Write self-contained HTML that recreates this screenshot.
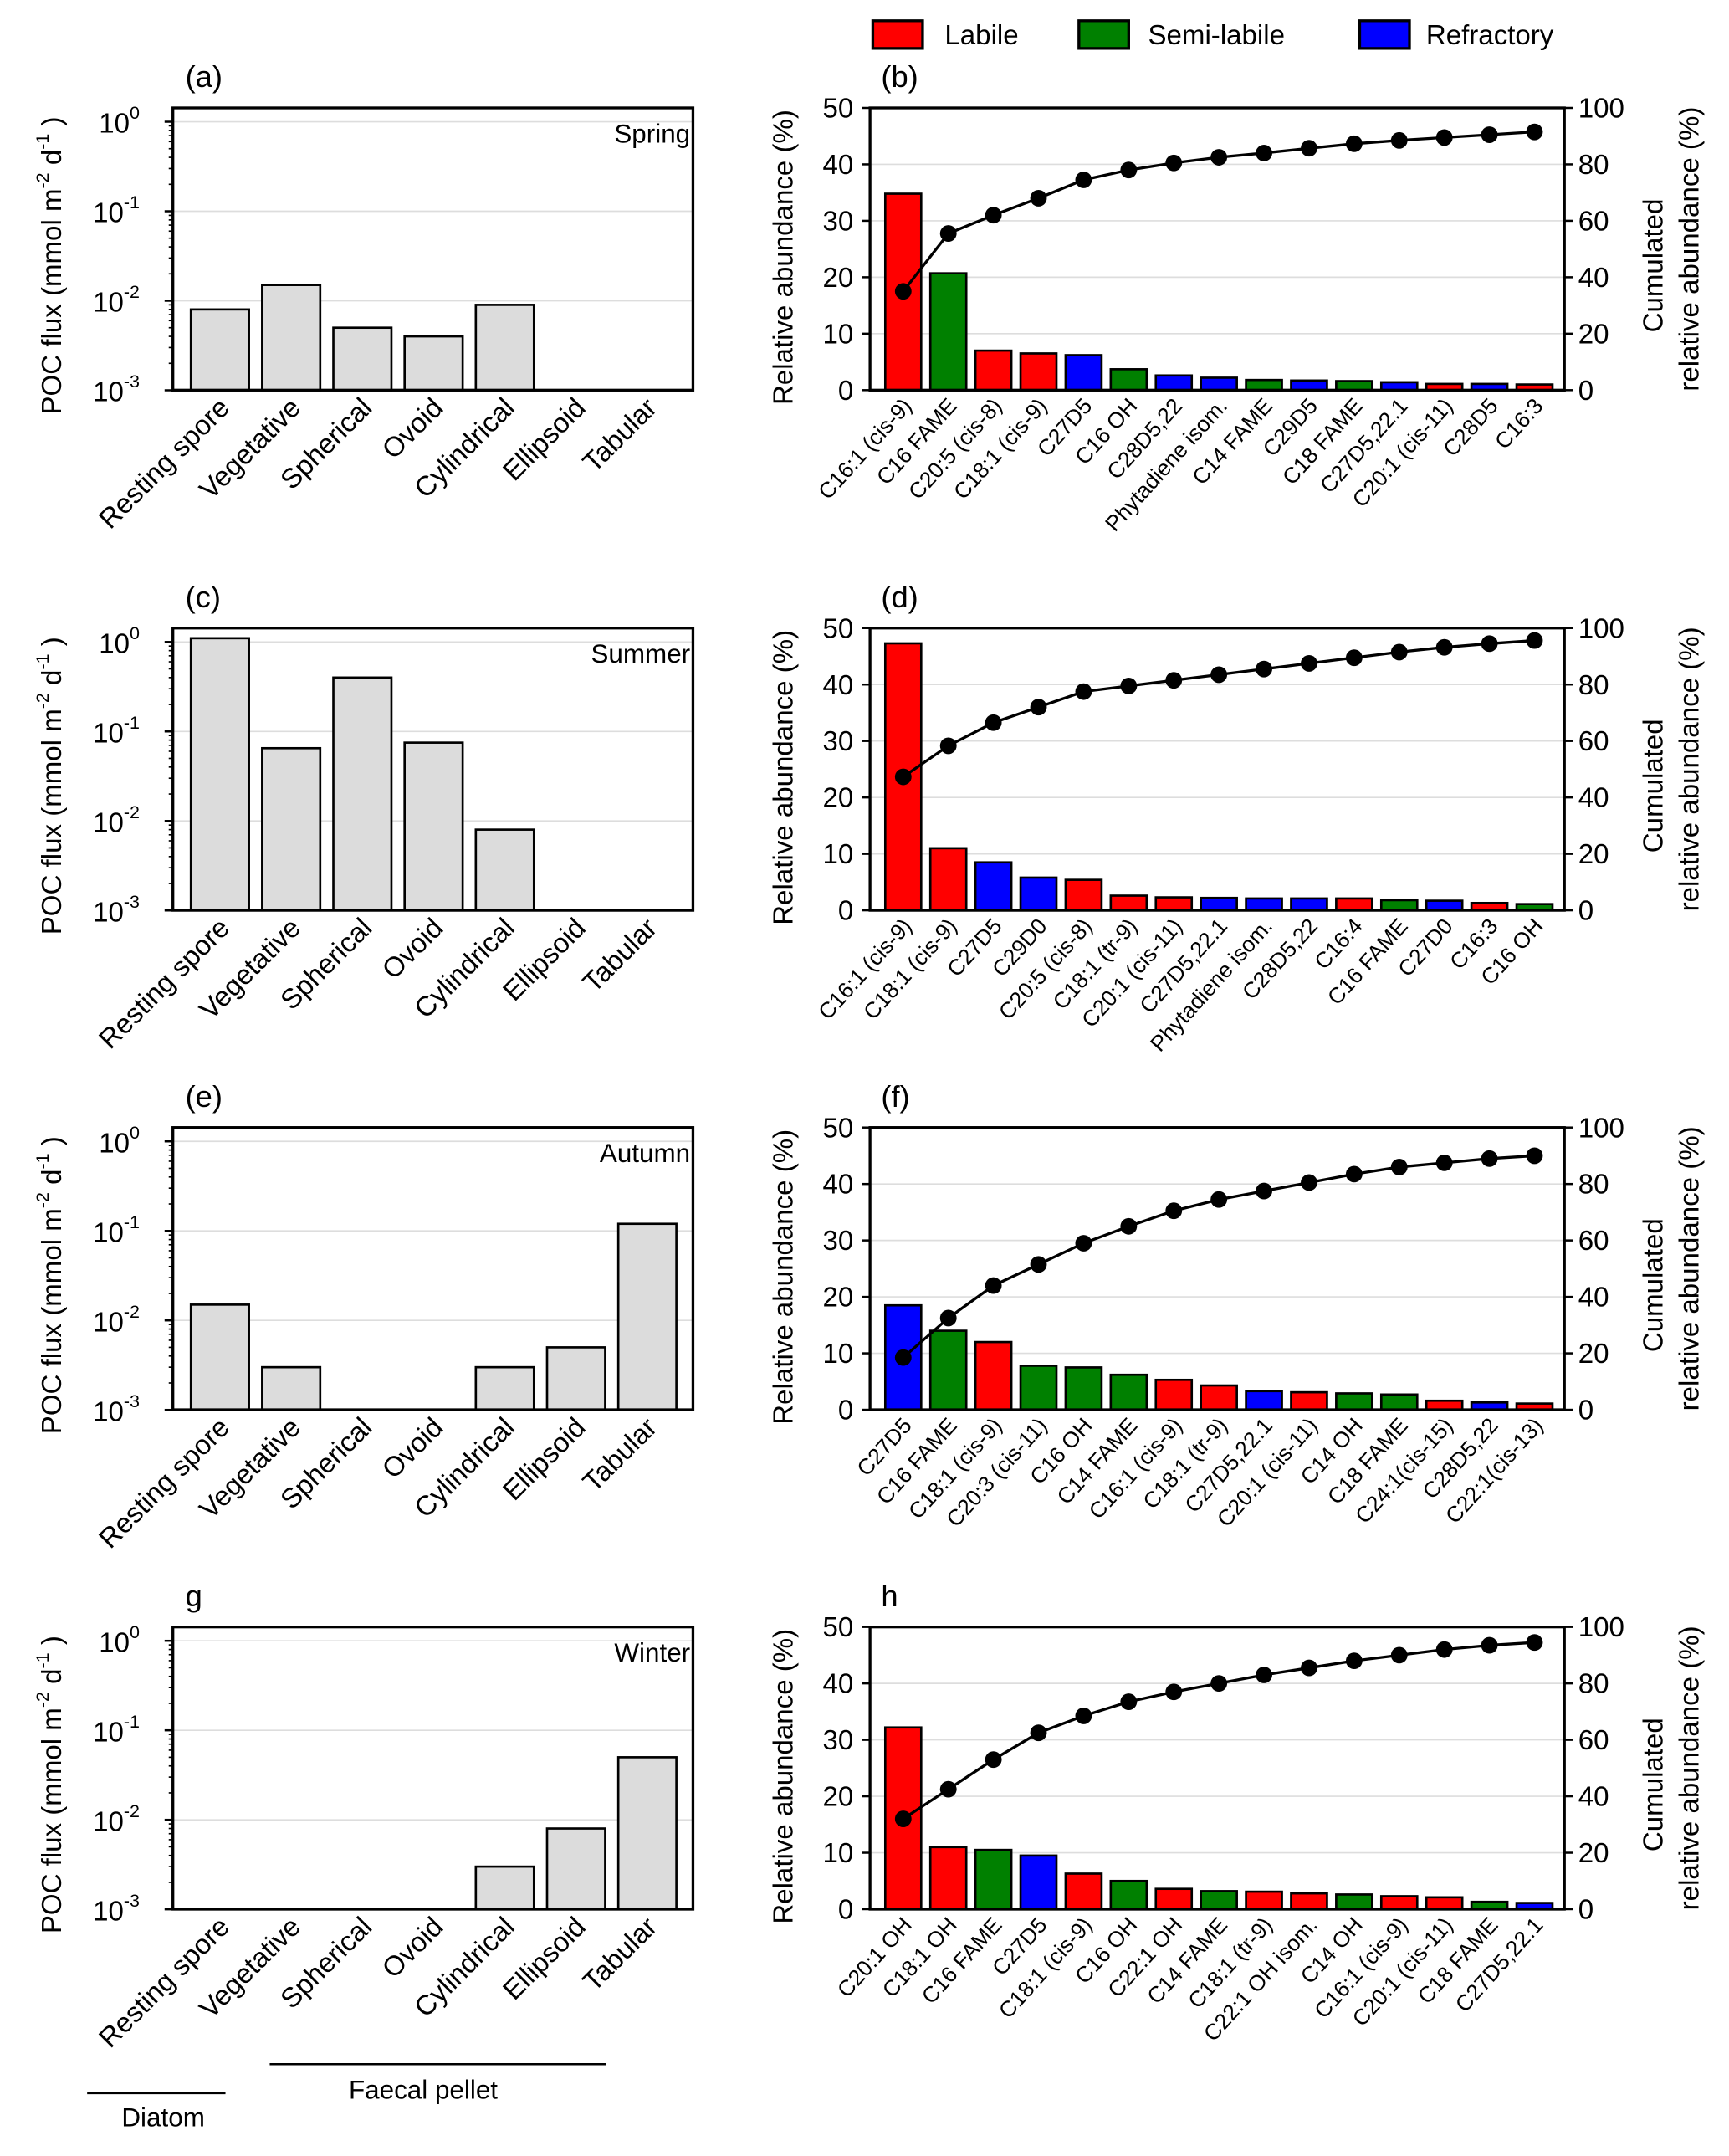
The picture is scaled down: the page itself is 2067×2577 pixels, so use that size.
<!DOCTYPE html>
<html><head><meta charset="utf-8"><style>
html,body{margin:0;padding:0;background:#fff}
svg{display:block}
text{font-family:"Liberation Sans",Arial,sans-serif;fill:#000}
</style></head><body>
<svg id="fig" xmlns="http://www.w3.org/2000/svg" width="2067" height="2577" viewBox="0 0 1250 1558.4" preserveAspectRatio="none">
<g>
<rect x="631" y="15" width="36" height="20" fill="#ff0000" stroke="#000" stroke-width="2"/>
<text x="683" y="32" font-size="20">Labile</text>
<rect x="780" y="15" width="36" height="20" fill="#008000" stroke="#000" stroke-width="2"/>
<text x="830" y="32" font-size="20">Semi-labile</text>
<rect x="983" y="15" width="36" height="20" fill="#0000ff" stroke="#000" stroke-width="2"/>
<text x="1031" y="32" font-size="20">Refractory</text>
</g>
<g>
<line x1="63" y1="1513" x2="163" y2="1513" stroke="#000" stroke-width="1.5"/>
<text x="118" y="1537" font-size="19" text-anchor="middle">Diatom</text>
<line x1="195" y1="1492" x2="438" y2="1492" stroke="#000" stroke-width="1.5"/>
<text x="306" y="1517" font-size="19" text-anchor="middle">Faecal pellet</text>
</g>
</svg>
<script>
const NS="http://www.w3.org/2000/svg";
const svg=document.getElementById('fig');
const cats=["Resting spore","Vegetative","Spherical","Ovoid","Cylindrical","Ellipsoid","Tabular"];
const fluxSpring=[0.008,0.015,0.005,0.004,0.009,null,null];
const fluxSummer=[1.1,0.065,0.4,0.075,0.008,null,null];
const fluxAutumn=[0.015,0.003,null,null,0.003,0.005,0.12];
const fluxWinter=[null,null,null,null,0.003,0.008,0.05];
const labelsB=["C16:1 (cis-9)","C16 FAME","C20:5 (cis-8)","C18:1 (cis-9)","C27D5","C16 OH","C28D5,22","Phytadiene isom.","C14 FAME","C29D5","C18 FAME","C27D5,22.1","C20:1 (cis-11)","C28D5","C16:3"];
const valsB=[34.8,20.7,7,6.5,6.2,3.7,2.6,2.2,1.8,1.7,1.6,1.4,1.1,1.1,1.0];
const classB=["L","S","L","L","R","S","R","R","S","R","S","R","L","R","L"];
const cumB=[35,55.5,62,68,74.5,78,80.5,82.5,84,85.7,87.3,88.5,89.5,90.5,91.5];
const labelsD=["C16:1 (cis-9)","C18:1 (cis-9)","C27D5","C29D0","C20:5 (cis-8)","C18:1 (tr-9)","C20:1 (cis-11)","C27D5,22.1","Phytadiene isom.","C28D5,22","C16:4","C16 FAME","C27D0","C16:3","C16 OH"];
const valsD=[47.3,11,8.5,5.8,5.4,2.6,2.3,2.2,2.1,2.1,2.1,1.8,1.7,1.3,1.1];
const classD=["L","L","R","R","L","L","L","R","R","R","L","S","R","L","S"];
const cumD=[47.3,58.3,66.5,72,77.5,79.5,81.5,83.5,85.5,87.5,89.5,91.5,93.2,94.5,95.6];
const labelsF=["C27D5","C16 FAME","C18:1 (cis-9)","C20:3 (cis-11)","C16 OH","C14 FAME","C16:1 (cis-9)","C18:1 (tr-9)","C27D5,22.1","C20:1 (cis-11)","C14 OH","C18 FAME","C24:1(cis-15)","C28D5,22","C22:1(cis-13)"];
const valsF=[18.5,14,12,7.8,7.5,6.2,5.3,4.3,3.3,3.1,2.9,2.7,1.6,1.3,1.1];
const classF=["R","S","L","S","S","S","L","L","R","L","S","S","L","R","L"];
const cumF=[18.5,32.5,44,51.5,59,65,70.5,74.5,77.5,80.5,83.5,86,87.5,89,90];
const labelsH=["C20:1 OH","C18:1 OH","C16 FAME","C27D5","C18:1 (cis-9)","C16 OH","C22:1 OH","C14 FAME","C18:1 (tr-9)","C22:1 OH isom.","C14 OH","C16:1 (cis-9)","C20:1 (cis-11)","C18 FAME","C27D5,22.1"];
const valsH=[32.2,11,10.5,9.5,6.3,5,3.6,3.2,3.1,2.8,2.6,2.3,2.1,1.3,1.1];
const classH=["L","L","S","R","L","S","L","S","L","L","S","L","L","S","R"];
const cumH=[32,42.5,53,62.5,68.5,73.5,77,80,83,85.5,88,90,92,93.5,94.5];
const colorMap={L:"#ff0000",S:"#008000",R:"#0000ff"};

function el(tag,attrs,parent,txt){const e=document.createElementNS(NS,tag);for(const k in attrs)e.setAttribute(k,attrs[k]);if(txt!==undefined)e.textContent=txt;(parent||svg).appendChild(e);return e;}

function logPanel(top,vals,letter,season,name){
  const L=125,R=501,B=top+204,T=top;
  const g=el('g',{});
  
  
  const y0=top+10,dec=64.7;
  const yv=v=>y0+(-Math.log10(v))*dec;
  for(let e=0;e>=-2;e--){el('line',{x1:L,x2:R,y1:yv(Math.pow(10,e)),y2:yv(Math.pow(10,e)),stroke:'#ddd','stroke-width':1},g);}
  const pitch=51.5, off=13;
  vals.forEach((v,i)=>{ if(v==null) return;
    const r=el('rect',{x:L+off+pitch*i,y:yv(v),width:42,height:B-yv(v),fill:'#dcdcdc',stroke:'#000','stroke-width':1.6},g);
    
    
  });
  el('rect',{x:L,y:T,width:R-L,height:B-T,fill:'none',stroke:'#000','stroke-width':2},g);
  for(let e=0;e>=-3;e--){
    const y=yv(Math.pow(10,e));
    el('line',{x1:L-6,x2:L,y1:y,y2:y,stroke:'#000','stroke-width':1.5},g);
    const t=el('text',{x:L-24,y:y+8,'font-size':20,'text-anchor':'end'},g,'10');
    el('tspan',{dy:-10,'font-size':13},t,String(e));
    
    if(e>-3){for(let m=2;m<=9;m++){const ym=yv(m*Math.pow(10,e-1));el('line',{x1:L-3,x2:L,y1:ym,y2:ym,stroke:'#000','stroke-width':1},g);}}
  }
  for(let m=2;m<=9;m++){const ym=yv(m);if(ym>=T)el('line',{x1:L-3,x2:L,y1:ym,y2:ym,stroke:'#000','stroke-width':1},g);}
  cats.forEach((c,i)=>{const x=L+off+pitch*i+21+8,y=B+14;
    const t=el('text',{x:x,y:y,'font-size':20,'text-anchor':'end',transform:`rotate(-45 ${x} ${y})`},g,c);
    });
  const yt=el('text',{x:0,y:0,'font-size':20,'text-anchor':'middle',transform:`translate(44 ${(T+B)/2+12}) rotate(-90)`},g);
  
  yt.appendChild(document.createTextNode('POC flux (mmol m'));
  el('tspan',{dy:-9,'font-size':13},yt,'-2');
  el('tspan',{dy:9},yt,'  d');
  el('tspan',{dy:-9,'font-size':13},yt,'-1');
  el('tspan',{dy:9},yt,' )');
  const pl=el('text',{x:134,y:top-15,'font-size':22},g,letter);
  
  const sl=el('text',{x:R-2,y:top+25,'font-size':19,'text-anchor':'end'},g,season);
  
}

function barPanel(top,labels,vals,cls,cum,letter,name){
  const L=629,R=1131,T=top,B=top+204;
  const g=el('g',{});
  
  
  const yv=v=>B-v/50*(B-T);
  const yc=v=>B-v/100*(B-T);
  for(let v=10;v<=40;v+=10)el('line',{x1:L,x2:R,y1:yv(v),y2:yv(v),stroke:'#ddd','stroke-width':1},g);
  const pitch=32.6, off=11, bw=26;
  vals.forEach((v,i)=>{const r=el('rect',{x:L+off+pitch*i,y:yv(v),width:bw,height:B-yv(v),fill:colorMap[cls[i]],stroke:'#000','stroke-width':1.6},g);
    
    });
  const pts=cum.map((v,i)=>[L+off+pitch*i+bw/2,yc(v)]);
  const ln=el('polyline',{points:pts.map(p=>p.join(',')).join(' '),fill:'none',stroke:'#000','stroke-width':2},g);
  
  pts.forEach(p=>{const c=el('circle',{cx:p[0],cy:p[1],r:6,fill:'#000'},g);
    });
  el('rect',{x:L,y:T,width:R-L,height:B-T,fill:'none',stroke:'#000','stroke-width':2},g);
  for(let v=0;v<=50;v+=10){const y=yv(v);el('line',{x1:L-6,x2:L,y1:y,y2:y,stroke:'#000','stroke-width':1.5},g);
    const t=el('text',{x:L-12,y:y+7,'font-size':20,'text-anchor':'end'},g,String(v));
    }
  for(let v=0;v<=100;v+=20){const y=yc(v);el('line',{x1:R,x2:R+6,y1:y,y2:y,stroke:'#000','stroke-width':1.5},g);
    const t=el('text',{x:R+10,y:y+7,'font-size':20},g,String(v));
    }
  labels.forEach((c,i)=>{const x=L+off+pitch*i+bw/2+7,y=B+12;
    const t=el('text',{x:x,y:y,'font-size':16,'text-anchor':'end',transform:`rotate(-48 ${x} ${y})`},g,c);
    });
  const yt=el('text',{'font-size':20,'text-anchor':'middle',transform:`translate(573 ${(T+B)/2+6}) rotate(-90)`},g,'Relative abundance (%)');
  
  const y2a=el('text',{'font-size':20,'text-anchor':'middle',transform:`translate(1202 ${(T+B)/2+12}) rotate(-90)`},g,'Cumulated');
  
  const y2b=el('text',{'font-size':20,'text-anchor':'middle',transform:`translate(1228 ${(T+B)/2}) rotate(-90)`},g,'relative abundance (%)');
  
  const pl=el('text',{x:637,y:top-15,'font-size':22},g,letter);
  
}

logPanel(78,fluxSpring,'(a)','Spring','panel-a-spring');
logPanel(454,fluxSummer,'(c)','Summer','panel-c-summer');
logPanel(815,fluxAutumn,'(e)','Autumn','panel-e-autumn');
logPanel(1176,fluxWinter,'g','Winter','panel-g-winter');
barPanel(78,labelsB,valsB,classB,cumB,'(b)','panel-b-spring');
barPanel(454,labelsD,valsD,classD,cumD,'(d)','panel-d-summer');
barPanel(815,labelsF,valsF,classF,cumF,'(f)','panel-f-autumn');
barPanel(1176,labelsH,valsH,classH,cumH,'h','panel-h-winter');
</script>
</body></html>
